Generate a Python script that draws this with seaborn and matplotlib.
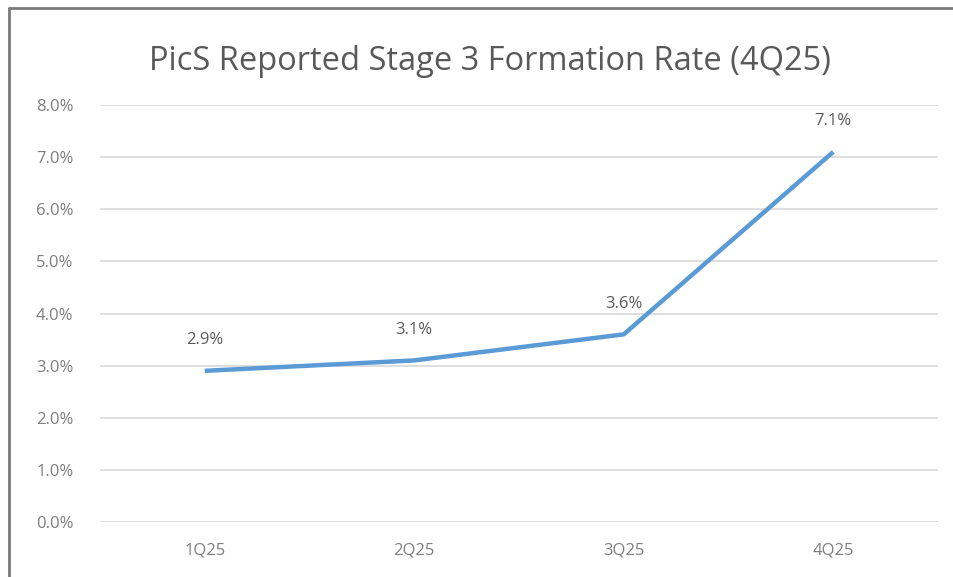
import pandas as pd
import seaborn as sns
import matplotlib.pyplot as plt
from matplotlib.lines import Line2D
from matplotlib.ticker import FuncFormatter

# Data
quarters = ["1Q25", "2Q25", "3Q25", "4Q25"]
rates = [2.9, 3.1, 3.6, 7.1]
labels = ["2.9%", "3.1%", "3.6%", "7.1%"]

df = pd.DataFrame({"quarter": quarters, "rate": rates})
df["x"] = range(len(df))

sns.set_style("white")
plt.rcParams["font.family"] = ["Open Sans", "DejaVu Sans"]

fig = plt.figure(figsize=(9.54, 5.77), dpi=100)
ax = fig.add_axes([100 / 954, 55 / 577, 838 / 954, 417 / 577])

sns.lineplot(data=df, x="x", y="rate", color="#5B9BD5", linewidth=3.2,
             ax=ax, solid_capstyle="butt", zorder=3)

for xi, yi, lab in zip(df["x"], df["rate"], labels):
    ax.annotate(lab, (xi, yi), xytext=(0, 22), textcoords="offset points",
                ha="center", va="center", fontsize=12, color="#595959")

ax.set_xlim(-0.5, 3.5)
ax.set_ylim(0, 8)
ax.set_yticks(range(0, 9))
ax.yaxis.set_major_formatter(FuncFormatter(lambda v, p: f"{v:.1f}%"))
ax.set_xticks(df["x"])
ax.set_xticklabels(quarters)
ax.grid(axis="y", color="#D9D9D9", linewidth=1.2)
ax.grid(axis="x", visible=False)
for s in ax.spines.values():
    s.set_visible(False)
ax.tick_params(axis="both", length=0, labelsize=12, colors="#7F7F7F")
ax.tick_params(axis="y", pad=19)
ax.tick_params(axis="x", pad=15)
ax.set_xlabel("")
ax.set_ylabel("")

fig.text(490 / 954, 1 - 62 / 577, "PicS Reported Stage 3 Formation Rate (4Q25)",
         ha="center", va="center", fontsize=23.5, color="#595959")

# outer frame: only top and left edges show
fy = 1 - 8 / 577
fx = 9 / 954
fig.add_artist(Line2D([fx, 1.05], [fy, fy], transform=fig.transFigure,
                      color="#7A7A7A", linewidth=2))
fig.add_artist(Line2D([fx, fx], [-0.05, fy], transform=fig.transFigure,
                      color="#7A7A7A", linewidth=2))

fig.savefig("out.png", dpi=100)
